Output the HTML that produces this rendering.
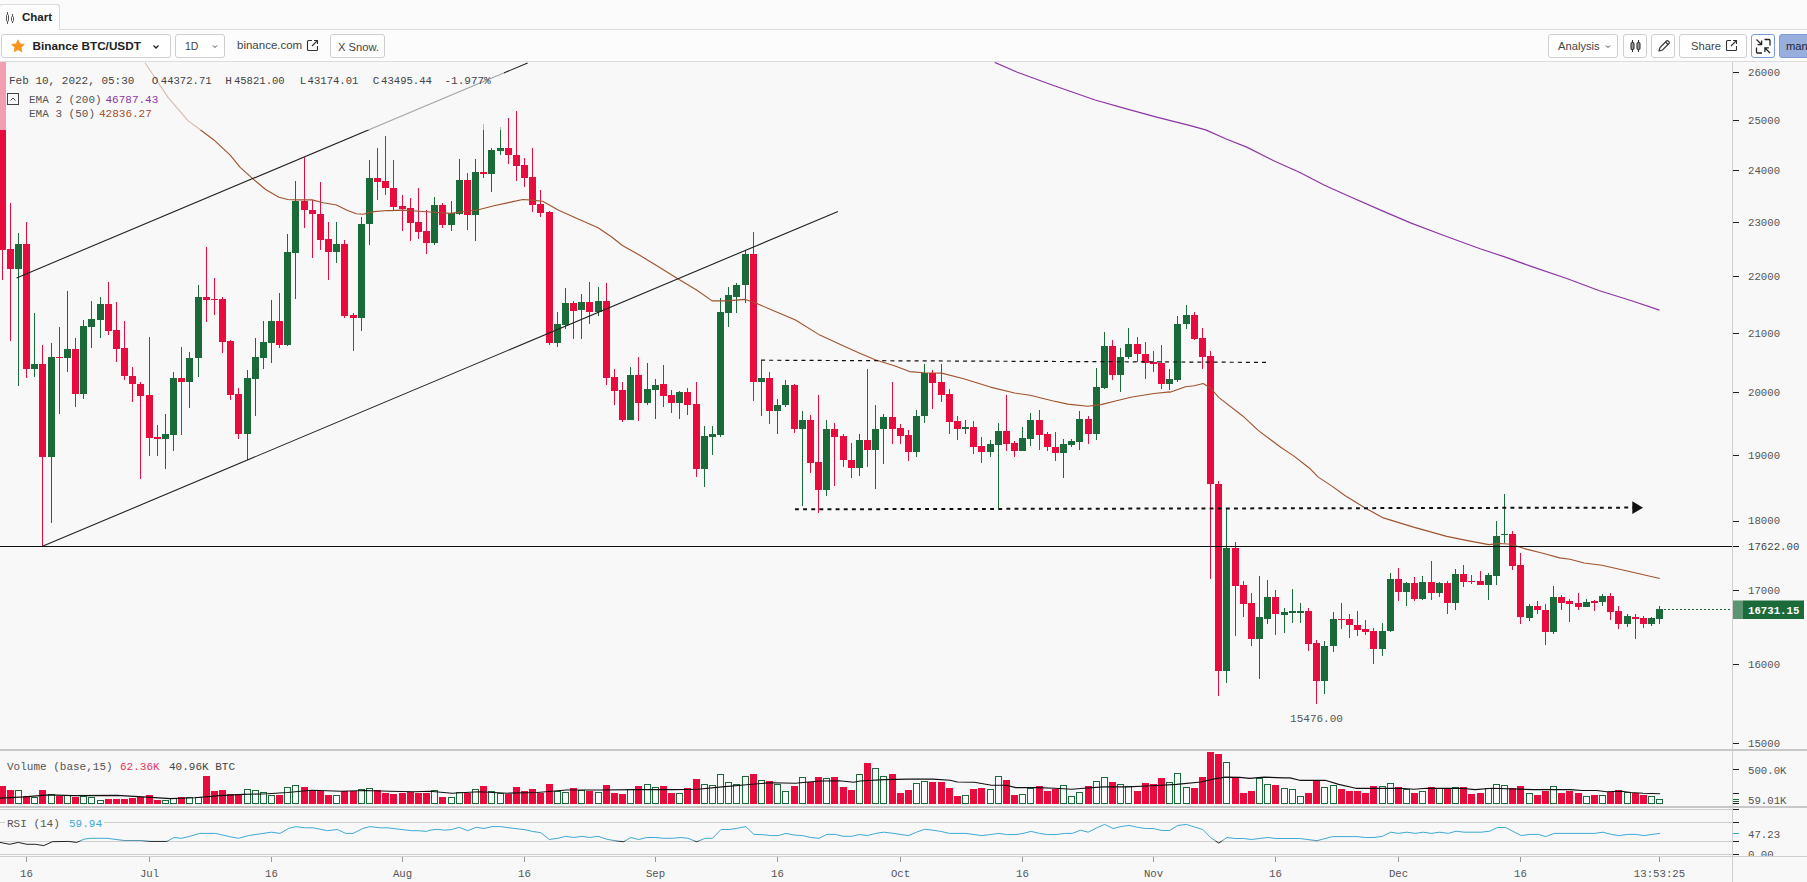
<!DOCTYPE html>
<html><head><meta charset="utf-8"><title>Chart</title><style>
html,body{margin:0;padding:0}
body{width:1807px;height:882px;overflow:hidden;background:#f8f8f8;position:relative;font-family:"Liberation Sans",sans-serif}
.mono{font-family:"Liberation Mono",monospace;font-size:11px}
.ax{font-family:"Liberation Mono",monospace;font-size:10.7px}
#tabs{position:absolute;left:0;top:0;width:1807px;height:29px;background:#fbfbfb;border-bottom:1px solid #dcdcdc}
#tab{position:absolute;left:-1px;top:4px;width:61px;height:26px;background:#fdfdfd;border:1px solid #dcdcdc;border-bottom:none;border-radius:3px 3px 0 0;box-sizing:border-box}
#tab span{position:absolute;left:22px;top:6px;font-size:11.5px;font-weight:bold;color:#222}
#bar{position:absolute;left:0;top:30px;width:1807px;height:31px;background:#fcfcfc;border-bottom:1px solid #dcdcdc}
.btn{position:absolute;top:4px;height:24px;box-sizing:border-box;border:1px solid #cfcfcf;border-radius:3px;background:#fff;font-size:11.2px;color:#444;line-height:22px;white-space:nowrap}
</style></head><body>
<svg width="1807" height="882" viewBox="0 0 1807 882" style="position:absolute;left:0;top:0">
<defs><clipPath id="cm"><rect x="0" y="62" width="1732" height="687"/></clipPath></defs>
<g clip-path="url(#cm)">
<g shape-rendering="crispEdges">
<rect x="2" y="40" width="1" height="240.1" fill="#e80c3e"/>
<rect x="-1" y="40" width="7" height="209.8" fill="#e80c3e"/>
<rect x="10" y="203.3" width="1" height="137.9" fill="#e80c3e"/>
<rect x="7" y="249.1" width="7" height="19.5" fill="#e80c3e"/>
<rect x="18" y="232.5" width="1" height="153" fill="#1b6b3a"/>
<rect x="15" y="244.3" width="7" height="24.3" fill="#1b6b3a"/>
<rect x="26" y="222.1" width="1" height="156.1" fill="#e80c3e"/>
<rect x="23" y="244.3" width="7" height="124.4" fill="#e80c3e"/>
<rect x="34" y="312.5" width="1" height="64.6" fill="#1b6b3a"/>
<rect x="31" y="364.3" width="7" height="4.4" fill="#1b6b3a"/>
<rect x="42" y="345.4" width="1" height="200.6" fill="#e80c3e"/>
<rect x="39" y="364.3" width="7" height="92.6" fill="#e80c3e"/>
<rect x="51" y="343.4" width="1" height="180" fill="#1b6b3a"/>
<rect x="48" y="357.2" width="7" height="99.6" fill="#1b6b3a"/>
<rect x="59" y="327.3" width="1" height="87" fill="#e80c3e"/>
<rect x="56" y="356.7" width="7" height="1.3" fill="#e80c3e"/>
<rect x="67" y="291.2" width="1" height="80.4" fill="#1b6b3a"/>
<rect x="64" y="349.4" width="7" height="8.2" fill="#1b6b3a"/>
<rect x="75" y="338.4" width="1" height="68.2" fill="#e80c3e"/>
<rect x="72" y="349.4" width="7" height="44.3" fill="#e80c3e"/>
<rect x="83" y="319.5" width="1" height="79.9" fill="#1b6b3a"/>
<rect x="80" y="326.2" width="7" height="67.5" fill="#1b6b3a"/>
<rect x="91" y="301.4" width="1" height="46.9" fill="#1b6b3a"/>
<rect x="88" y="319.1" width="7" height="7.5" fill="#1b6b3a"/>
<rect x="100" y="297.4" width="1" height="41" fill="#1b6b3a"/>
<rect x="97" y="304" width="7" height="15.5" fill="#1b6b3a"/>
<rect x="108" y="282.3" width="1" height="52.7" fill="#e80c3e"/>
<rect x="105" y="304" width="7" height="26.6" fill="#e80c3e"/>
<rect x="116" y="302.3" width="1" height="59.3" fill="#e80c3e"/>
<rect x="113" y="330.2" width="7" height="18.6" fill="#e80c3e"/>
<rect x="124" y="320.6" width="1" height="59.8" fill="#e80c3e"/>
<rect x="121" y="348.3" width="7" height="27.2" fill="#e80c3e"/>
<rect x="132" y="366.5" width="1" height="35" fill="#e80c3e"/>
<rect x="129" y="375.5" width="7" height="8.9" fill="#e80c3e"/>
<rect x="140" y="381.5" width="1" height="97.7" fill="#e80c3e"/>
<rect x="137" y="384.2" width="7" height="11.8" fill="#e80c3e"/>
<rect x="149" y="337.2" width="1" height="119.1" fill="#e80c3e"/>
<rect x="146" y="395.1" width="7" height="42.9" fill="#e80c3e"/>
<rect x="157" y="425.4" width="1" height="31" fill="#e80c3e"/>
<rect x="154" y="437.1" width="7" height="1.5" fill="#e80c3e"/>
<rect x="165" y="414.3" width="1" height="54.9" fill="#1b6b3a"/>
<rect x="162" y="434.2" width="7" height="4.4" fill="#1b6b3a"/>
<rect x="173" y="371.6" width="1" height="79.7" fill="#1b6b3a"/>
<rect x="170" y="378.2" width="7" height="56.5" fill="#1b6b3a"/>
<rect x="181" y="347.2" width="1" height="88.1" fill="#e80c3e"/>
<rect x="178" y="378.2" width="7" height="3.3" fill="#e80c3e"/>
<rect x="189" y="351.6" width="1" height="56" fill="#1b6b3a"/>
<rect x="186" y="358.3" width="7" height="23.2" fill="#1b6b3a"/>
<rect x="198" y="285.2" width="1" height="91.9" fill="#1b6b3a"/>
<rect x="195" y="297" width="7" height="61.3" fill="#1b6b3a"/>
<rect x="206" y="247.1" width="1" height="75" fill="#e80c3e"/>
<rect x="203" y="297" width="7" height="2.7" fill="#e80c3e"/>
<rect x="214" y="277.5" width="1" height="37" fill="#e80c3e"/>
<rect x="211" y="298.7" width="7" height="1.4" fill="#e80c3e"/>
<rect x="222" y="297.4" width="1" height="55.8" fill="#e80c3e"/>
<rect x="219" y="298.9" width="7" height="42.7" fill="#e80c3e"/>
<rect x="230" y="339.9" width="1" height="60.5" fill="#e80c3e"/>
<rect x="227" y="341" width="7" height="53.8" fill="#e80c3e"/>
<rect x="238" y="388.4" width="1" height="50.9" fill="#e80c3e"/>
<rect x="235" y="393.9" width="7" height="39.8" fill="#e80c3e"/>
<rect x="247" y="370.4" width="1" height="89.7" fill="#1b6b3a"/>
<rect x="244" y="378.2" width="7" height="55.6" fill="#1b6b3a"/>
<rect x="255" y="338.4" width="1" height="77.7" fill="#1b6b3a"/>
<rect x="252" y="357.2" width="7" height="21.7" fill="#1b6b3a"/>
<rect x="263" y="321.3" width="1" height="48" fill="#1b6b3a"/>
<rect x="260" y="342.3" width="7" height="15.3" fill="#1b6b3a"/>
<rect x="271" y="299.6" width="1" height="63.8" fill="#1b6b3a"/>
<rect x="268" y="321.1" width="7" height="21.7" fill="#1b6b3a"/>
<rect x="279" y="293.4" width="1" height="54.2" fill="#e80c3e"/>
<rect x="276" y="321.1" width="7" height="23.9" fill="#e80c3e"/>
<rect x="287" y="234.3" width="1" height="111.8" fill="#1b6b3a"/>
<rect x="284" y="252" width="7" height="93" fill="#1b6b3a"/>
<rect x="295" y="180.6" width="1" height="118.5" fill="#1b6b3a"/>
<rect x="292" y="201.1" width="7" height="51.6" fill="#1b6b3a"/>
<rect x="304" y="157" width="1" height="70.7" fill="#e80c3e"/>
<rect x="301" y="201" width="7" height="9.4" fill="#e80c3e"/>
<rect x="312" y="199.9" width="1" height="57.7" fill="#e80c3e"/>
<rect x="309" y="210.4" width="7" height="4" fill="#e80c3e"/>
<rect x="320" y="182.4" width="1" height="67.4" fill="#e80c3e"/>
<rect x="317" y="213.9" width="7" height="25.9" fill="#e80c3e"/>
<rect x="328" y="222.1" width="1" height="57.6" fill="#e80c3e"/>
<rect x="325" y="239.4" width="7" height="12.2" fill="#e80c3e"/>
<rect x="336" y="221.5" width="1" height="41.2" fill="#1b6b3a"/>
<rect x="333" y="244.3" width="7" height="7.3" fill="#1b6b3a"/>
<rect x="344" y="240.3" width="1" height="78.1" fill="#e80c3e"/>
<rect x="341" y="244.3" width="7" height="71.5" fill="#e80c3e"/>
<rect x="353" y="312.9" width="1" height="38.1" fill="#e80c3e"/>
<rect x="350" y="315.1" width="7" height="3.3" fill="#e80c3e"/>
<rect x="361" y="216.6" width="1" height="114" fill="#1b6b3a"/>
<rect x="358" y="224.3" width="7" height="94.1" fill="#1b6b3a"/>
<rect x="369" y="160.3" width="1" height="84.7" fill="#1b6b3a"/>
<rect x="366" y="178.4" width="7" height="45.9" fill="#1b6b3a"/>
<rect x="377" y="148.1" width="1" height="51.8" fill="#e80c3e"/>
<rect x="374" y="178.4" width="7" height="3.3" fill="#e80c3e"/>
<rect x="385" y="136.4" width="1" height="58.7" fill="#e80c3e"/>
<rect x="382" y="181.3" width="7" height="7.1" fill="#e80c3e"/>
<rect x="393" y="160.3" width="1" height="50.2" fill="#e80c3e"/>
<rect x="390" y="188.4" width="7" height="18.2" fill="#e80c3e"/>
<rect x="402" y="195.3" width="1" height="35.2" fill="#e80c3e"/>
<rect x="399" y="206.3" width="7" height="2.2" fill="#e80c3e"/>
<rect x="410" y="198.4" width="1" height="42.3" fill="#e80c3e"/>
<rect x="407" y="208.3" width="7" height="14.4" fill="#e80c3e"/>
<rect x="418" y="188.4" width="1" height="50.9" fill="#e80c3e"/>
<rect x="415" y="222.3" width="7" height="9.5" fill="#e80c3e"/>
<rect x="426" y="210.1" width="1" height="44.3" fill="#e80c3e"/>
<rect x="423" y="231.1" width="7" height="11.5" fill="#e80c3e"/>
<rect x="434" y="197.3" width="1" height="47.6" fill="#1b6b3a"/>
<rect x="431" y="205" width="7" height="37.6" fill="#1b6b3a"/>
<rect x="442" y="203" width="1" height="24.8" fill="#e80c3e"/>
<rect x="439" y="205" width="7" height="19.5" fill="#e80c3e"/>
<rect x="451" y="201.3" width="1" height="29.2" fill="#1b6b3a"/>
<rect x="448" y="213.4" width="7" height="11.1" fill="#1b6b3a"/>
<rect x="459" y="158.5" width="1" height="56" fill="#1b6b3a"/>
<rect x="456" y="180.2" width="7" height="33.6" fill="#1b6b3a"/>
<rect x="467" y="173.1" width="1" height="56.4" fill="#e80c3e"/>
<rect x="464" y="180.2" width="7" height="34.3" fill="#e80c3e"/>
<rect x="475" y="159.2" width="1" height="81.5" fill="#1b6b3a"/>
<rect x="472" y="172" width="7" height="42.5" fill="#1b6b3a"/>
<rect x="483" y="124.2" width="1" height="53.3" fill="#e80c3e"/>
<rect x="480" y="172" width="7" height="1.8" fill="#e80c3e"/>
<rect x="491" y="147.5" width="1" height="44.3" fill="#1b6b3a"/>
<rect x="488" y="150.3" width="7" height="23.2" fill="#1b6b3a"/>
<rect x="500" y="126.7" width="1" height="28.6" fill="#1b6b3a"/>
<rect x="497" y="148.1" width="7" height="2.7" fill="#1b6b3a"/>
<rect x="508" y="117.8" width="1" height="45.8" fill="#e80c3e"/>
<rect x="505" y="148.1" width="7" height="7.3" fill="#e80c3e"/>
<rect x="516" y="110.5" width="1" height="70.8" fill="#e80c3e"/>
<rect x="513" y="155.2" width="7" height="10.6" fill="#e80c3e"/>
<rect x="524" y="157.6" width="1" height="29.7" fill="#e80c3e"/>
<rect x="521" y="165.2" width="7" height="12.4" fill="#e80c3e"/>
<rect x="532" y="147.5" width="1" height="64.9" fill="#e80c3e"/>
<rect x="529" y="177.3" width="7" height="27.2" fill="#e80c3e"/>
<rect x="540" y="190.2" width="1" height="26.6" fill="#e80c3e"/>
<rect x="537" y="204.1" width="7" height="8.6" fill="#e80c3e"/>
<rect x="549" y="211.2" width="1" height="134" fill="#e80c3e"/>
<rect x="546" y="212.3" width="7" height="130.7" fill="#e80c3e"/>
<rect x="557" y="311.6" width="1" height="35" fill="#1b6b3a"/>
<rect x="554" y="324.4" width="7" height="18.6" fill="#1b6b3a"/>
<rect x="565" y="287.7" width="1" height="41.6" fill="#1b6b3a"/>
<rect x="562" y="303.4" width="7" height="21.5" fill="#1b6b3a"/>
<rect x="573" y="300.9" width="1" height="38.3" fill="#e80c3e"/>
<rect x="570" y="303.4" width="7" height="7.5" fill="#e80c3e"/>
<rect x="581" y="293.9" width="1" height="45.4" fill="#1b6b3a"/>
<rect x="578" y="302.3" width="7" height="7.5" fill="#1b6b3a"/>
<rect x="589" y="281.6" width="1" height="42.8" fill="#e80c3e"/>
<rect x="586" y="302.3" width="7" height="9.3" fill="#e80c3e"/>
<rect x="598" y="286.5" width="1" height="29" fill="#1b6b3a"/>
<rect x="595" y="300.9" width="7" height="10.6" fill="#1b6b3a"/>
<rect x="606" y="282.5" width="1" height="102.8" fill="#e80c3e"/>
<rect x="603" y="300.9" width="7" height="76.6" fill="#e80c3e"/>
<rect x="614" y="368.7" width="1" height="35.9" fill="#e80c3e"/>
<rect x="611" y="377.3" width="7" height="13.5" fill="#e80c3e"/>
<rect x="622" y="382.4" width="1" height="39.8" fill="#e80c3e"/>
<rect x="619" y="390.1" width="7" height="29.4" fill="#e80c3e"/>
<rect x="630" y="366.5" width="1" height="53.6" fill="#1b6b3a"/>
<rect x="627" y="375.1" width="7" height="44.5" fill="#1b6b3a"/>
<rect x="638" y="357.4" width="1" height="63.1" fill="#e80c3e"/>
<rect x="635" y="375.1" width="7" height="28.3" fill="#e80c3e"/>
<rect x="647" y="362.5" width="1" height="42.1" fill="#1b6b3a"/>
<rect x="644" y="389" width="7" height="14.4" fill="#1b6b3a"/>
<rect x="655" y="379.1" width="1" height="40.3" fill="#1b6b3a"/>
<rect x="652" y="384.6" width="7" height="4.9" fill="#1b6b3a"/>
<rect x="663" y="365.4" width="1" height="41.8" fill="#e80c3e"/>
<rect x="660" y="384.2" width="7" height="11.5" fill="#e80c3e"/>
<rect x="671" y="389.5" width="1" height="23.9" fill="#e80c3e"/>
<rect x="668" y="395.2" width="7" height="7.5" fill="#e80c3e"/>
<rect x="679" y="390.6" width="1" height="27.9" fill="#1b6b3a"/>
<rect x="676" y="392.4" width="7" height="10.4" fill="#1b6b3a"/>
<rect x="687" y="388.4" width="1" height="26.1" fill="#e80c3e"/>
<rect x="684" y="392.4" width="7" height="12.2" fill="#e80c3e"/>
<rect x="696" y="381.7" width="1" height="95.4" fill="#e80c3e"/>
<rect x="693" y="404.1" width="7" height="64.6" fill="#e80c3e"/>
<rect x="704" y="425.6" width="1" height="60.9" fill="#1b6b3a"/>
<rect x="701" y="436.2" width="7" height="32.5" fill="#1b6b3a"/>
<rect x="712" y="425.6" width="1" height="29.4" fill="#1b6b3a"/>
<rect x="709" y="434.4" width="7" height="2.2" fill="#1b6b3a"/>
<rect x="720" y="298.3" width="1" height="138.4" fill="#1b6b3a"/>
<rect x="717" y="312.2" width="7" height="122.6" fill="#1b6b3a"/>
<rect x="728" y="286.5" width="1" height="40.1" fill="#1b6b3a"/>
<rect x="725" y="295" width="7" height="17.7" fill="#1b6b3a"/>
<rect x="736" y="283.2" width="1" height="29.5" fill="#1b6b3a"/>
<rect x="733" y="284.9" width="7" height="11.6" fill="#1b6b3a"/>
<rect x="745" y="250" width="1" height="52.8" fill="#1b6b3a"/>
<rect x="742" y="253.9" width="7" height="31.4" fill="#1b6b3a"/>
<rect x="753" y="232.2" width="1" height="168.3" fill="#e80c3e"/>
<rect x="750" y="253.9" width="7" height="127.8" fill="#e80c3e"/>
<rect x="761" y="359.6" width="1" height="56" fill="#1b6b3a"/>
<rect x="758" y="378.4" width="7" height="3.3" fill="#1b6b3a"/>
<rect x="769" y="372.4" width="1" height="51.4" fill="#e80c3e"/>
<rect x="766" y="378.4" width="7" height="32.3" fill="#e80c3e"/>
<rect x="777" y="399.4" width="1" height="35" fill="#1b6b3a"/>
<rect x="774" y="404.5" width="7" height="6.2" fill="#1b6b3a"/>
<rect x="785" y="380.2" width="1" height="27.2" fill="#1b6b3a"/>
<rect x="782" y="385.3" width="7" height="19.5" fill="#1b6b3a"/>
<rect x="794" y="384.2" width="1" height="49.1" fill="#e80c3e"/>
<rect x="791" y="385.3" width="7" height="43.6" fill="#e80c3e"/>
<rect x="802" y="411.2" width="1" height="94.3" fill="#1b6b3a"/>
<rect x="799" y="420.3" width="7" height="8.6" fill="#1b6b3a"/>
<rect x="810" y="414.5" width="1" height="58.7" fill="#e80c3e"/>
<rect x="807" y="420.3" width="7" height="42.5" fill="#e80c3e"/>
<rect x="818" y="395.3" width="1" height="117.3" fill="#e80c3e"/>
<rect x="815" y="462.1" width="7" height="27.9" fill="#e80c3e"/>
<rect x="826" y="420.3" width="1" height="76.1" fill="#1b6b3a"/>
<rect x="823" y="429.1" width="7" height="60.9" fill="#1b6b3a"/>
<rect x="834" y="422.9" width="1" height="62.6" fill="#e80c3e"/>
<rect x="831" y="429.1" width="7" height="7.5" fill="#e80c3e"/>
<rect x="843" y="434.4" width="1" height="32.8" fill="#e80c3e"/>
<rect x="840" y="436.2" width="7" height="23.7" fill="#e80c3e"/>
<rect x="851" y="443.3" width="1" height="35" fill="#e80c3e"/>
<rect x="848" y="459.5" width="7" height="8.2" fill="#e80c3e"/>
<rect x="859" y="434.4" width="1" height="41.2" fill="#1b6b3a"/>
<rect x="856" y="440.2" width="7" height="27.4" fill="#1b6b3a"/>
<rect x="867" y="369.4" width="1" height="97.2" fill="#e80c3e"/>
<rect x="864" y="440.2" width="7" height="9.3" fill="#e80c3e"/>
<rect x="875" y="405.2" width="1" height="84.1" fill="#1b6b3a"/>
<rect x="872" y="428.5" width="7" height="21" fill="#1b6b3a"/>
<rect x="883" y="414.1" width="1" height="50.2" fill="#1b6b3a"/>
<rect x="880" y="417" width="7" height="11.5" fill="#1b6b3a"/>
<rect x="892" y="381.5" width="1" height="62.9" fill="#e80c3e"/>
<rect x="889" y="417" width="7" height="11.5" fill="#e80c3e"/>
<rect x="900" y="424" width="1" height="19.9" fill="#e80c3e"/>
<rect x="897" y="428" width="7" height="7.5" fill="#e80c3e"/>
<rect x="908" y="429.6" width="1" height="31" fill="#e80c3e"/>
<rect x="905" y="435.1" width="7" height="17" fill="#e80c3e"/>
<rect x="916" y="409.7" width="1" height="47.6" fill="#1b6b3a"/>
<rect x="913" y="415.6" width="7" height="36.5" fill="#1b6b3a"/>
<rect x="924" y="363.6" width="1" height="59.8" fill="#1b6b3a"/>
<rect x="921" y="372.5" width="7" height="43.2" fill="#1b6b3a"/>
<rect x="932" y="370.2" width="1" height="38.3" fill="#e80c3e"/>
<rect x="929" y="372.5" width="7" height="10.2" fill="#e80c3e"/>
<rect x="941" y="364.3" width="1" height="37.2" fill="#e80c3e"/>
<rect x="938" y="382.4" width="7" height="12.2" fill="#e80c3e"/>
<rect x="949" y="388.6" width="1" height="45.8" fill="#e80c3e"/>
<rect x="946" y="394.2" width="7" height="27.7" fill="#e80c3e"/>
<rect x="957" y="415.6" width="1" height="23.9" fill="#e80c3e"/>
<rect x="954" y="421.4" width="7" height="7.1" fill="#e80c3e"/>
<rect x="965" y="419.6" width="1" height="14.8" fill="#1b6b3a"/>
<rect x="962" y="427.2" width="7" height="1.4" fill="#1b6b3a"/>
<rect x="973" y="421.4" width="1" height="32.1" fill="#e80c3e"/>
<rect x="970" y="427.4" width="7" height="19.5" fill="#e80c3e"/>
<rect x="981" y="437.3" width="1" height="26.1" fill="#e80c3e"/>
<rect x="978" y="446.4" width="7" height="5.3" fill="#e80c3e"/>
<rect x="990" y="439.5" width="1" height="17.7" fill="#1b6b3a"/>
<rect x="987" y="444.4" width="7" height="7.3" fill="#1b6b3a"/>
<rect x="998" y="422.5" width="1" height="85.2" fill="#1b6b3a"/>
<rect x="995" y="431.3" width="7" height="13.3" fill="#1b6b3a"/>
<rect x="1006" y="395.3" width="1" height="55.3" fill="#e80c3e"/>
<rect x="1003" y="431.3" width="7" height="12.2" fill="#e80c3e"/>
<rect x="1014" y="440.6" width="1" height="15.9" fill="#e80c3e"/>
<rect x="1011" y="443.3" width="7" height="7.3" fill="#e80c3e"/>
<rect x="1022" y="427.4" width="1" height="23.7" fill="#1b6b3a"/>
<rect x="1019" y="438.4" width="7" height="12.2" fill="#1b6b3a"/>
<rect x="1030" y="412.5" width="1" height="33" fill="#1b6b3a"/>
<rect x="1027" y="420.3" width="7" height="18.6" fill="#1b6b3a"/>
<rect x="1039" y="410.3" width="1" height="39.2" fill="#e80c3e"/>
<rect x="1036" y="420.3" width="7" height="14.4" fill="#e80c3e"/>
<rect x="1047" y="432.2" width="1" height="18.4" fill="#e80c3e"/>
<rect x="1044" y="434" width="7" height="12.6" fill="#e80c3e"/>
<rect x="1055" y="432.2" width="1" height="29" fill="#e80c3e"/>
<rect x="1052" y="446.8" width="7" height="6" fill="#e80c3e"/>
<rect x="1063" y="438.9" width="1" height="38.7" fill="#1b6b3a"/>
<rect x="1060" y="444.4" width="7" height="8.4" fill="#1b6b3a"/>
<rect x="1071" y="438.9" width="1" height="8.4" fill="#1b6b3a"/>
<rect x="1068" y="441.3" width="7" height="3.3" fill="#1b6b3a"/>
<rect x="1079" y="411.4" width="1" height="38.7" fill="#1b6b3a"/>
<rect x="1076" y="418.5" width="7" height="23.2" fill="#1b6b3a"/>
<rect x="1088" y="416.3" width="1" height="28.1" fill="#e80c3e"/>
<rect x="1085" y="418.5" width="7" height="15.5" fill="#e80c3e"/>
<rect x="1096" y="367.6" width="1" height="71.9" fill="#1b6b3a"/>
<rect x="1093" y="387.1" width="7" height="46.9" fill="#1b6b3a"/>
<rect x="1104" y="331.5" width="1" height="57.8" fill="#1b6b3a"/>
<rect x="1101" y="346.1" width="7" height="41.4" fill="#1b6b3a"/>
<rect x="1112" y="340.4" width="1" height="39.8" fill="#e80c3e"/>
<rect x="1109" y="346.1" width="7" height="28.6" fill="#e80c3e"/>
<rect x="1120" y="347.7" width="1" height="44.7" fill="#1b6b3a"/>
<rect x="1117" y="356.5" width="7" height="18.2" fill="#1b6b3a"/>
<rect x="1128" y="328.4" width="1" height="31" fill="#1b6b3a"/>
<rect x="1125" y="344.3" width="7" height="12.2" fill="#1b6b3a"/>
<rect x="1137" y="337.3" width="1" height="24.3" fill="#e80c3e"/>
<rect x="1134" y="344.3" width="7" height="10" fill="#e80c3e"/>
<rect x="1145" y="341.5" width="1" height="37.2" fill="#e80c3e"/>
<rect x="1142" y="354.3" width="7" height="8.4" fill="#e80c3e"/>
<rect x="1153" y="350.5" width="1" height="21.9" fill="#e80c3e"/>
<rect x="1150" y="362.1" width="7" height="1.5" fill="#e80c3e"/>
<rect x="1161" y="344.8" width="1" height="44.5" fill="#e80c3e"/>
<rect x="1158" y="363.2" width="7" height="20.4" fill="#e80c3e"/>
<rect x="1169" y="368.7" width="1" height="21.7" fill="#1b6b3a"/>
<rect x="1166" y="379.3" width="7" height="4.2" fill="#1b6b3a"/>
<rect x="1177" y="315.5" width="1" height="66" fill="#1b6b3a"/>
<rect x="1174" y="323.9" width="7" height="55.8" fill="#1b6b3a"/>
<rect x="1186" y="304.9" width="1" height="23.9" fill="#1b6b3a"/>
<rect x="1183" y="315.1" width="7" height="9.3" fill="#1b6b3a"/>
<rect x="1194" y="312.2" width="1" height="27.7" fill="#e80c3e"/>
<rect x="1191" y="315.1" width="7" height="23.7" fill="#e80c3e"/>
<rect x="1202" y="328.3" width="1" height="41" fill="#e80c3e"/>
<rect x="1199" y="338.3" width="7" height="18.2" fill="#e80c3e"/>
<rect x="1210" y="350.5" width="1" height="228" fill="#e80c3e"/>
<rect x="1207" y="356" width="7" height="128.4" fill="#e80c3e"/>
<rect x="1218" y="481.1" width="1" height="214.5" fill="#e80c3e"/>
<rect x="1215" y="483.8" width="7" height="187.1" fill="#e80c3e"/>
<rect x="1226" y="507.7" width="1" height="174.9" fill="#1b6b3a"/>
<rect x="1223" y="548.2" width="7" height="122.7" fill="#1b6b3a"/>
<rect x="1235" y="541.5" width="1" height="94.5" fill="#e80c3e"/>
<rect x="1232" y="547.5" width="7" height="38.3" fill="#e80c3e"/>
<rect x="1243" y="581.4" width="1" height="35.9" fill="#e80c3e"/>
<rect x="1240" y="585.1" width="7" height="18.8" fill="#e80c3e"/>
<rect x="1251" y="593.3" width="1" height="53.1" fill="#e80c3e"/>
<rect x="1248" y="603.3" width="7" height="36.1" fill="#e80c3e"/>
<rect x="1259" y="576.3" width="1" height="102.3" fill="#1b6b3a"/>
<rect x="1256" y="617.2" width="7" height="22.1" fill="#1b6b3a"/>
<rect x="1267" y="580.3" width="1" height="44.1" fill="#1b6b3a"/>
<rect x="1264" y="597.3" width="7" height="21.5" fill="#1b6b3a"/>
<rect x="1275" y="589.6" width="1" height="45.8" fill="#e80c3e"/>
<rect x="1272" y="597.3" width="7" height="17" fill="#e80c3e"/>
<rect x="1284" y="607.9" width="1" height="25.5" fill="#1b6b3a"/>
<rect x="1281" y="612.2" width="7" height="2.4" fill="#1b6b3a"/>
<rect x="1292" y="589.1" width="1" height="34.3" fill="#1b6b3a"/>
<rect x="1289" y="611.3" width="7" height="1.5" fill="#1b6b3a"/>
<rect x="1300" y="603.3" width="1" height="19.5" fill="#1b6b3a"/>
<rect x="1297" y="611.3" width="7" height="1.5" fill="#1b6b3a"/>
<rect x="1308" y="608.4" width="1" height="42.1" fill="#e80c3e"/>
<rect x="1305" y="611" width="7" height="32.8" fill="#e80c3e"/>
<rect x="1316" y="640" width="1" height="64.4" fill="#e80c3e"/>
<rect x="1313" y="643.4" width="7" height="37.4" fill="#e80c3e"/>
<rect x="1324" y="640.5" width="1" height="53.1" fill="#1b6b3a"/>
<rect x="1321" y="646" width="7" height="34.8" fill="#1b6b3a"/>
<rect x="1333" y="611.7" width="1" height="40.5" fill="#1b6b3a"/>
<rect x="1330" y="619" width="7" height="27.4" fill="#1b6b3a"/>
<rect x="1341" y="603.3" width="1" height="26.1" fill="#e80c3e"/>
<rect x="1338" y="618.9" width="7" height="1.4" fill="#e80c3e"/>
<rect x="1349" y="614.4" width="1" height="23.9" fill="#e80c3e"/>
<rect x="1346" y="619" width="7" height="6.4" fill="#e80c3e"/>
<rect x="1357" y="611.3" width="1" height="24.3" fill="#e80c3e"/>
<rect x="1354" y="625" width="7" height="4.9" fill="#e80c3e"/>
<rect x="1365" y="619.5" width="1" height="15.1" fill="#e80c3e"/>
<rect x="1362" y="629.4" width="7" height="2.9" fill="#e80c3e"/>
<rect x="1373" y="627.6" width="1" height="36.7" fill="#e80c3e"/>
<rect x="1370" y="631.2" width="7" height="17.5" fill="#e80c3e"/>
<rect x="1382" y="623.4" width="1" height="33" fill="#1b6b3a"/>
<rect x="1379" y="630.5" width="7" height="18.2" fill="#1b6b3a"/>
<rect x="1390" y="572.5" width="1" height="59.1" fill="#1b6b3a"/>
<rect x="1387" y="578.5" width="7" height="52.5" fill="#1b6b3a"/>
<rect x="1398" y="567.9" width="1" height="32.8" fill="#e80c3e"/>
<rect x="1395" y="578.5" width="7" height="13.3" fill="#e80c3e"/>
<rect x="1406" y="581.8" width="1" height="23.7" fill="#1b6b3a"/>
<rect x="1403" y="582.9" width="7" height="8.9" fill="#1b6b3a"/>
<rect x="1414" y="576.7" width="1" height="23.9" fill="#e80c3e"/>
<rect x="1411" y="582.9" width="7" height="15.9" fill="#e80c3e"/>
<rect x="1422" y="575.6" width="1" height="23.9" fill="#1b6b3a"/>
<rect x="1419" y="582.3" width="7" height="16.6" fill="#1b6b3a"/>
<rect x="1431" y="560.8" width="1" height="38.7" fill="#e80c3e"/>
<rect x="1428" y="582.3" width="7" height="10.2" fill="#e80c3e"/>
<rect x="1439" y="582.3" width="1" height="15.1" fill="#1b6b3a"/>
<rect x="1436" y="582.9" width="7" height="10" fill="#1b6b3a"/>
<rect x="1447" y="580.7" width="1" height="32.8" fill="#e80c3e"/>
<rect x="1444" y="582.9" width="7" height="19.9" fill="#e80c3e"/>
<rect x="1455" y="569.2" width="1" height="40.3" fill="#1b6b3a"/>
<rect x="1452" y="574.1" width="7" height="28.8" fill="#1b6b3a"/>
<rect x="1463" y="564.6" width="1" height="22.1" fill="#e80c3e"/>
<rect x="1460" y="574.1" width="7" height="7.7" fill="#e80c3e"/>
<rect x="1471" y="574.5" width="1" height="9.5" fill="#e80c3e"/>
<rect x="1468" y="581" width="7" height="1.4" fill="#e80c3e"/>
<rect x="1480" y="571.4" width="1" height="13.7" fill="#e80c3e"/>
<rect x="1477" y="581.2" width="7" height="3.5" fill="#e80c3e"/>
<rect x="1488" y="573.4" width="1" height="26.1" fill="#1b6b3a"/>
<rect x="1485" y="575.2" width="7" height="9.5" fill="#1b6b3a"/>
<rect x="1496" y="520.5" width="1" height="64" fill="#1b6b3a"/>
<rect x="1493" y="536" width="7" height="39.6" fill="#1b6b3a"/>
<rect x="1504" y="494.4" width="1" height="48.7" fill="#1b6b3a"/>
<rect x="1501" y="533.8" width="7" height="1.5" fill="#1b6b3a"/>
<rect x="1512" y="530.5" width="1" height="39.8" fill="#e80c3e"/>
<rect x="1509" y="533.8" width="7" height="32.1" fill="#e80c3e"/>
<rect x="1520" y="552.6" width="1" height="71.7" fill="#e80c3e"/>
<rect x="1517" y="565.2" width="7" height="51.6" fill="#e80c3e"/>
<rect x="1529" y="604.4" width="1" height="16.2" fill="#1b6b3a"/>
<rect x="1526" y="606.2" width="7" height="11.5" fill="#1b6b3a"/>
<rect x="1537" y="600.6" width="1" height="13.7" fill="#e80c3e"/>
<rect x="1534" y="606.2" width="7" height="3.8" fill="#e80c3e"/>
<rect x="1545" y="603.5" width="1" height="41" fill="#e80c3e"/>
<rect x="1542" y="609.5" width="7" height="22.1" fill="#e80c3e"/>
<rect x="1553" y="585.8" width="1" height="48.5" fill="#1b6b3a"/>
<rect x="1550" y="597.3" width="7" height="34.3" fill="#1b6b3a"/>
<rect x="1561" y="595.1" width="1" height="15.1" fill="#e80c3e"/>
<rect x="1558" y="597.3" width="7" height="5.5" fill="#e80c3e"/>
<rect x="1569" y="599.1" width="1" height="23.2" fill="#e80c3e"/>
<rect x="1566" y="601.3" width="7" height="2.2" fill="#e80c3e"/>
<rect x="1578" y="593.3" width="1" height="16.2" fill="#e80c3e"/>
<rect x="1575" y="603.3" width="7" height="3.5" fill="#e80c3e"/>
<rect x="1586" y="599.1" width="1" height="7.7" fill="#1b6b3a"/>
<rect x="1583" y="601.7" width="7" height="4.9" fill="#1b6b3a"/>
<rect x="1594" y="599.5" width="1" height="11.1" fill="#e80c3e"/>
<rect x="1591" y="601.2" width="7" height="1.4" fill="#e80c3e"/>
<rect x="1602" y="594" width="1" height="11.5" fill="#1b6b3a"/>
<rect x="1599" y="596.2" width="7" height="6.2" fill="#1b6b3a"/>
<rect x="1610" y="592.5" width="1" height="27" fill="#e80c3e"/>
<rect x="1607" y="596.2" width="7" height="15.5" fill="#e80c3e"/>
<rect x="1618" y="605.5" width="1" height="23.9" fill="#e80c3e"/>
<rect x="1615" y="611.3" width="7" height="12.6" fill="#e80c3e"/>
<rect x="1627" y="614.4" width="1" height="12.8" fill="#1b6b3a"/>
<rect x="1624" y="616.1" width="7" height="7.7" fill="#1b6b3a"/>
<rect x="1635" y="613.5" width="1" height="25.9" fill="#e80c3e"/>
<rect x="1632" y="616.6" width="7" height="2.2" fill="#e80c3e"/>
<rect x="1643" y="616.1" width="1" height="12.2" fill="#e80c3e"/>
<rect x="1640" y="618.4" width="7" height="5.5" fill="#e80c3e"/>
<rect x="1651" y="617.2" width="1" height="8.9" fill="#1b6b3a"/>
<rect x="1648" y="618.4" width="7" height="5.5" fill="#1b6b3a"/>
<rect x="1659" y="606.2" width="1" height="17.3" fill="#1b6b3a"/>
<rect x="1656" y="609.1" width="7" height="9.7" fill="#1b6b3a"/>
</g>
<polyline points="145,62.7 155,77.7 168.2,97.6 188.2,120.9 200.3,129.7 213.6,139.7 230.2,155.2 240.2,167.4 252.4,178.4 265.6,189.5 278.9,197.2 287.8,199.5 296.6,199.9 312.1,199.9 323.2,202.8 336.5,205 347.5,210.5 356.4,213.8 363,214.3 374.1,211.6 387.4,210.5 390,210.6 403.3,210.1 418.8,211.2 434.3,212.3 449.8,213.4 463,211.7 478.5,209.7 494,205.7 509.5,202.4 522.8,199.5 531.7,200.1 542.7,201.3 558.2,210.1 575.9,217.9 598.1,227.8 611.4,236.7 622.4,245.5 640.1,255.5 660.1,267.7 677.8,278.7 696.6,290 712.1,300.9 726.5,300.9 745.3,299.4 757.5,303.8 773,310.5 795.5,320 819.8,335.1 839.8,344.3 859.7,353.2 875.2,359.8 895.1,366 909.5,371.6 923.9,372.7 941.6,373.1 963.7,378.7 990.3,387.1 1014.6,393 1030.1,395.3 1052.3,400.8 1067.8,404.1 1087.7,406.3 1101,404.6 1116.5,400.8 1132,397 1154.1,393.5 1169.6,391.9 1170,392.3 1185.5,386.8 1194.3,385.7 1203.2,383.5 1211,388.5 1218.7,397.4 1243,416.2 1258.5,430.6 1280.7,447.2 1294,456.1 1309.5,468.2 1318.3,477.1 1331.6,485.9 1344.9,495.5 1364.8,507.7 1382.5,517.6 1413.5,527.1 1446.7,536.4 1468.8,540.9 1488.8,544.6 1499.8,543.5 1510.9,544.2 1524.2,548.6 1541.9,553 1559.6,557.9 1570,559.2 1584.1,563 1601.8,565.2 1628.4,571.2 1659.8,578.5" fill="none" stroke="#a0522d" stroke-width="1.1" stroke-linejoin="round"/>
<polyline points="994.8,62.4 1017.3,72.2 1054.2,85.7 1095.1,100 1123.8,108.2 1156.6,117.2 1189.3,125.4 1205.7,129.9 1226.2,139 1246.7,147.1 1275.3,161.5 1299.9,172.5 1324.5,185.2 1349,196.3 1381.8,210.6 1410.5,222.9 1443.2,235.2 1480.1,248.7 1504.7,256.9 1533.3,267.1 1566.1,278.2 1598.8,290.5 1631.6,300.7 1659.5,310.1" fill="none" stroke="#8e35a5" stroke-width="1.2" stroke-linejoin="round"/>
<g stroke="#222" stroke-width="1.1" fill="none">
<line x1="16.6" y1="277.9" x2="527.6" y2="63"/>
<line x1="42.5" y1="546.3" x2="838" y2="211.4"/>
</g>
<line x1="761.1" y1="360.2" x2="1269.5" y2="362.4" stroke="#111" stroke-width="1.2" stroke-dasharray="4 4.08"/>
<line x1="795" y1="509.3" x2="1633" y2="507.6" stroke="#111" stroke-width="2" stroke-dasharray="3.9 4.23"/>
<polygon points="1632.3,501.3 1643,507.7 1632.3,514" fill="#111"/>
<line x1="1663.7" y1="609.5" x2="1733" y2="609.5" stroke="#1b6b3a" stroke-width="1" stroke-dasharray="2 2" shape-rendering="crispEdges"/>
<rect x="0" y="62" width="504" height="68" fill="#f8f8f8" fill-opacity="0.62"/>
</g>
<line x1="0" y1="546.5" x2="1739" y2="546.5" stroke="#111" stroke-width="1" shape-rendering="crispEdges"/>
<text x="1316.5" y="722.3" text-anchor="middle" class="mono" fill="#555">15476.00</text>
<rect x="0" y="749" width="1807" height="2" fill="#c8c8c8"/>
<rect x="0" y="806" width="1807" height="2" fill="#c8c8c8"/>
<line x1="0" y1="809.5" x2="1732" y2="809.5" stroke="#cfcfcf" stroke-width="1" shape-rendering="crispEdges"/>
<line x1="0" y1="822.5" x2="1732" y2="822.5" stroke="#cfcfcf" stroke-width="1" shape-rendering="crispEdges"/>
<line x1="0" y1="841.5" x2="1732" y2="841.5" stroke="#cfcfcf" stroke-width="1" shape-rendering="crispEdges"/>
<line x1="0" y1="854.5" x2="1732" y2="854.5" stroke="#cfcfcf" stroke-width="1" shape-rendering="crispEdges"/>
<g shape-rendering="crispEdges">
<rect x="-1" y="785.9" width="7" height="17.6" fill="#e80c3e"/>
<rect x="7" y="790" width="7" height="13.5" fill="#e80c3e"/>
<rect x="15.5" y="790.5" width="6" height="12.5" fill="#fafafa" stroke="#1b6b3a" stroke-width="1"/>
<rect x="23" y="796.1" width="7" height="7.4" fill="#e80c3e"/>
<rect x="31.5" y="797.5" width="6" height="5.5" fill="#fafafa" stroke="#1b6b3a" stroke-width="1"/>
<rect x="39" y="790" width="7" height="13.5" fill="#e80c3e"/>
<rect x="48.5" y="794.5" width="6" height="8.5" fill="#fafafa" stroke="#1b6b3a" stroke-width="1"/>
<rect x="56" y="795.6" width="7" height="7.9" fill="#e80c3e"/>
<rect x="64.5" y="795.5" width="6" height="7.5" fill="#fafafa" stroke="#1b6b3a" stroke-width="1"/>
<rect x="72" y="796.9" width="7" height="6.6" fill="#e80c3e"/>
<rect x="80.5" y="796.5" width="6" height="6.5" fill="#fafafa" stroke="#1b6b3a" stroke-width="1"/>
<rect x="88.5" y="797.5" width="6" height="5.5" fill="#fafafa" stroke="#1b6b3a" stroke-width="1"/>
<rect x="97.5" y="800.5" width="6" height="2.5" fill="#fafafa" stroke="#1b6b3a" stroke-width="1"/>
<rect x="105" y="799.1" width="7" height="4.4" fill="#e80c3e"/>
<rect x="113" y="799.1" width="7" height="4.4" fill="#e80c3e"/>
<rect x="121" y="799.1" width="7" height="4.4" fill="#e80c3e"/>
<rect x="129" y="798.1" width="7" height="5.4" fill="#e80c3e"/>
<rect x="137" y="797.4" width="7" height="6.1" fill="#e80c3e"/>
<rect x="146" y="795.4" width="7" height="8.1" fill="#e80c3e"/>
<rect x="154" y="799.8" width="7" height="3.7" fill="#e80c3e"/>
<rect x="162.5" y="800.5" width="6" height="2.5" fill="#fafafa" stroke="#1b6b3a" stroke-width="1"/>
<rect x="170.5" y="798.5" width="6" height="4.5" fill="#fafafa" stroke="#1b6b3a" stroke-width="1"/>
<rect x="178" y="796.9" width="7" height="6.6" fill="#e80c3e"/>
<rect x="186.5" y="797.5" width="6" height="5.5" fill="#fafafa" stroke="#1b6b3a" stroke-width="1"/>
<rect x="195.5" y="797.5" width="6" height="5.5" fill="#fafafa" stroke="#1b6b3a" stroke-width="1"/>
<rect x="203" y="776.2" width="7" height="27.3" fill="#e80c3e"/>
<rect x="211" y="791.3" width="7" height="12.2" fill="#e80c3e"/>
<rect x="219" y="790" width="7" height="13.5" fill="#e80c3e"/>
<rect x="227" y="794.2" width="7" height="9.3" fill="#e80c3e"/>
<rect x="235" y="794.2" width="7" height="9.3" fill="#e80c3e"/>
<rect x="244.5" y="789.5" width="6" height="13.5" fill="#fafafa" stroke="#1b6b3a" stroke-width="1"/>
<rect x="252.5" y="790.5" width="6" height="12.5" fill="#fafafa" stroke="#1b6b3a" stroke-width="1"/>
<rect x="260.5" y="792.5" width="6" height="10.5" fill="#fafafa" stroke="#1b6b3a" stroke-width="1"/>
<rect x="268.5" y="795.5" width="6" height="7.5" fill="#fafafa" stroke="#1b6b3a" stroke-width="1"/>
<rect x="276" y="794.9" width="7" height="8.6" fill="#e80c3e"/>
<rect x="284.5" y="787.5" width="6" height="15.5" fill="#fafafa" stroke="#1b6b3a" stroke-width="1"/>
<rect x="292.5" y="785.5" width="6" height="17.5" fill="#fafafa" stroke="#1b6b3a" stroke-width="1"/>
<rect x="301" y="787.1" width="7" height="16.4" fill="#e80c3e"/>
<rect x="309" y="790.5" width="7" height="13" fill="#e80c3e"/>
<rect x="317" y="790.5" width="7" height="13" fill="#e80c3e"/>
<rect x="325" y="794.9" width="7" height="8.6" fill="#e80c3e"/>
<rect x="333.5" y="795.5" width="6" height="7.5" fill="#fafafa" stroke="#1b6b3a" stroke-width="1"/>
<rect x="341" y="791.3" width="7" height="12.2" fill="#e80c3e"/>
<rect x="350" y="791.3" width="7" height="12.2" fill="#e80c3e"/>
<rect x="358.5" y="789.5" width="6" height="13.5" fill="#fafafa" stroke="#1b6b3a" stroke-width="1"/>
<rect x="366.5" y="788.5" width="6" height="14.5" fill="#fafafa" stroke="#1b6b3a" stroke-width="1"/>
<rect x="374" y="790" width="7" height="13.5" fill="#e80c3e"/>
<rect x="382" y="793" width="7" height="10.5" fill="#e80c3e"/>
<rect x="390" y="794.2" width="7" height="9.3" fill="#e80c3e"/>
<rect x="399" y="793" width="7" height="10.5" fill="#e80c3e"/>
<rect x="407" y="791.8" width="7" height="11.7" fill="#e80c3e"/>
<rect x="415" y="792.5" width="7" height="11" fill="#e80c3e"/>
<rect x="423" y="792.5" width="7" height="11" fill="#e80c3e"/>
<rect x="431.5" y="790.5" width="6" height="12.5" fill="#fafafa" stroke="#1b6b3a" stroke-width="1"/>
<rect x="439" y="796.9" width="7" height="6.6" fill="#e80c3e"/>
<rect x="448.5" y="797.5" width="6" height="5.5" fill="#fafafa" stroke="#1b6b3a" stroke-width="1"/>
<rect x="456.5" y="792.5" width="6" height="10.5" fill="#fafafa" stroke="#1b6b3a" stroke-width="1"/>
<rect x="464" y="793" width="7" height="10.5" fill="#e80c3e"/>
<rect x="472.5" y="789.5" width="6" height="13.5" fill="#fafafa" stroke="#1b6b3a" stroke-width="1"/>
<rect x="480" y="786.4" width="7" height="17.1" fill="#e80c3e"/>
<rect x="488.5" y="791.5" width="6" height="11.5" fill="#fafafa" stroke="#1b6b3a" stroke-width="1"/>
<rect x="497.5" y="793.5" width="6" height="9.5" fill="#fafafa" stroke="#1b6b3a" stroke-width="1"/>
<rect x="505" y="793.7" width="7" height="9.8" fill="#e80c3e"/>
<rect x="513" y="787.1" width="7" height="16.4" fill="#e80c3e"/>
<rect x="521" y="791.3" width="7" height="12.2" fill="#e80c3e"/>
<rect x="529" y="789.3" width="7" height="14.2" fill="#e80c3e"/>
<rect x="537" y="793" width="7" height="10.5" fill="#e80c3e"/>
<rect x="546" y="784" width="7" height="19.5" fill="#e80c3e"/>
<rect x="554.5" y="791.5" width="6" height="11.5" fill="#fafafa" stroke="#1b6b3a" stroke-width="1"/>
<rect x="562.5" y="792.5" width="6" height="10.5" fill="#fafafa" stroke="#1b6b3a" stroke-width="1"/>
<rect x="570" y="788.3" width="7" height="15.2" fill="#e80c3e"/>
<rect x="578.5" y="790.5" width="6" height="12.5" fill="#fafafa" stroke="#1b6b3a" stroke-width="1"/>
<rect x="586" y="790.5" width="7" height="13" fill="#e80c3e"/>
<rect x="595.5" y="792.5" width="6" height="10.5" fill="#fafafa" stroke="#1b6b3a" stroke-width="1"/>
<rect x="603" y="785.2" width="7" height="18.3" fill="#e80c3e"/>
<rect x="611" y="792.5" width="7" height="11" fill="#e80c3e"/>
<rect x="619" y="794.4" width="7" height="9.1" fill="#e80c3e"/>
<rect x="627.5" y="789.5" width="6" height="13.5" fill="#fafafa" stroke="#1b6b3a" stroke-width="1"/>
<rect x="635" y="786.4" width="7" height="17.1" fill="#e80c3e"/>
<rect x="644.5" y="784.5" width="6" height="18.5" fill="#fafafa" stroke="#1b6b3a" stroke-width="1"/>
<rect x="652.5" y="787.5" width="6" height="15.5" fill="#fafafa" stroke="#1b6b3a" stroke-width="1"/>
<rect x="660" y="786.4" width="7" height="17.1" fill="#e80c3e"/>
<rect x="668" y="793.2" width="7" height="10.3" fill="#e80c3e"/>
<rect x="676.5" y="793.5" width="6" height="9.5" fill="#fafafa" stroke="#1b6b3a" stroke-width="1"/>
<rect x="684" y="788.3" width="7" height="15.2" fill="#e80c3e"/>
<rect x="693" y="779.1" width="7" height="24.4" fill="#e80c3e"/>
<rect x="701.5" y="784.5" width="6" height="18.5" fill="#fafafa" stroke="#1b6b3a" stroke-width="1"/>
<rect x="709.5" y="785.5" width="6" height="17.5" fill="#fafafa" stroke="#1b6b3a" stroke-width="1"/>
<rect x="717.5" y="774.5" width="6" height="28.5" fill="#fafafa" stroke="#1b6b3a" stroke-width="1"/>
<rect x="725.5" y="782.5" width="6" height="20.5" fill="#fafafa" stroke="#1b6b3a" stroke-width="1"/>
<rect x="733.5" y="784.5" width="6" height="18.5" fill="#fafafa" stroke="#1b6b3a" stroke-width="1"/>
<rect x="742.5" y="776.5" width="6" height="26.5" fill="#fafafa" stroke="#1b6b3a" stroke-width="1"/>
<rect x="750" y="774.2" width="7" height="29.3" fill="#e80c3e"/>
<rect x="758.5" y="780.5" width="6" height="22.5" fill="#fafafa" stroke="#1b6b3a" stroke-width="1"/>
<rect x="766" y="781" width="7" height="22.5" fill="#e80c3e"/>
<rect x="774.5" y="784.5" width="6" height="18.5" fill="#fafafa" stroke="#1b6b3a" stroke-width="1"/>
<rect x="782.5" y="791.5" width="6" height="11.5" fill="#fafafa" stroke="#1b6b3a" stroke-width="1"/>
<rect x="791" y="786.4" width="7" height="17.1" fill="#e80c3e"/>
<rect x="799.5" y="777.5" width="6" height="25.5" fill="#fafafa" stroke="#1b6b3a" stroke-width="1"/>
<rect x="807" y="781.5" width="7" height="22" fill="#e80c3e"/>
<rect x="815" y="777.1" width="7" height="26.4" fill="#e80c3e"/>
<rect x="823.5" y="778.5" width="6" height="24.5" fill="#fafafa" stroke="#1b6b3a" stroke-width="1"/>
<rect x="831" y="777.1" width="7" height="26.4" fill="#e80c3e"/>
<rect x="840" y="787.1" width="7" height="16.4" fill="#e80c3e"/>
<rect x="848" y="790" width="7" height="13.5" fill="#e80c3e"/>
<rect x="856.5" y="774.5" width="6" height="28.5" fill="#fafafa" stroke="#1b6b3a" stroke-width="1"/>
<rect x="864" y="763.3" width="7" height="40.2" fill="#e80c3e"/>
<rect x="872.5" y="768.5" width="6" height="34.5" fill="#fafafa" stroke="#1b6b3a" stroke-width="1"/>
<rect x="880.5" y="776.5" width="6" height="26.5" fill="#fafafa" stroke="#1b6b3a" stroke-width="1"/>
<rect x="889" y="773.5" width="7" height="30" fill="#e80c3e"/>
<rect x="897" y="792.5" width="7" height="11" fill="#e80c3e"/>
<rect x="905" y="789.6" width="7" height="13.9" fill="#e80c3e"/>
<rect x="913.5" y="783.5" width="6" height="19.5" fill="#fafafa" stroke="#1b6b3a" stroke-width="1"/>
<rect x="921.5" y="781.5" width="6" height="21.5" fill="#fafafa" stroke="#1b6b3a" stroke-width="1"/>
<rect x="929" y="782.3" width="7" height="21.2" fill="#e80c3e"/>
<rect x="938" y="782.3" width="7" height="21.2" fill="#e80c3e"/>
<rect x="946" y="788.3" width="7" height="15.2" fill="#e80c3e"/>
<rect x="954" y="796.1" width="7" height="7.4" fill="#e80c3e"/>
<rect x="962.5" y="795.5" width="6" height="7.5" fill="#fafafa" stroke="#1b6b3a" stroke-width="1"/>
<rect x="970" y="789.3" width="7" height="14.2" fill="#e80c3e"/>
<rect x="978" y="787.6" width="7" height="15.9" fill="#e80c3e"/>
<rect x="987.5" y="789.5" width="6" height="13.5" fill="#fafafa" stroke="#1b6b3a" stroke-width="1"/>
<rect x="995.5" y="776.5" width="6" height="26.5" fill="#fafafa" stroke="#1b6b3a" stroke-width="1"/>
<rect x="1003" y="780.3" width="7" height="23.2" fill="#e80c3e"/>
<rect x="1011" y="795.4" width="7" height="8.1" fill="#e80c3e"/>
<rect x="1019.5" y="794.5" width="6" height="8.5" fill="#fafafa" stroke="#1b6b3a" stroke-width="1"/>
<rect x="1027.5" y="788.5" width="6" height="14.5" fill="#fafafa" stroke="#1b6b3a" stroke-width="1"/>
<rect x="1036" y="786.4" width="7" height="17.1" fill="#e80c3e"/>
<rect x="1044" y="790.5" width="7" height="13" fill="#e80c3e"/>
<rect x="1052" y="788.8" width="7" height="14.7" fill="#e80c3e"/>
<rect x="1060.5" y="785.5" width="6" height="17.5" fill="#fafafa" stroke="#1b6b3a" stroke-width="1"/>
<rect x="1068.5" y="796.5" width="6" height="6.5" fill="#fafafa" stroke="#1b6b3a" stroke-width="1"/>
<rect x="1076.5" y="792.5" width="6" height="10.5" fill="#fafafa" stroke="#1b6b3a" stroke-width="1"/>
<rect x="1085" y="786.4" width="7" height="17.1" fill="#e80c3e"/>
<rect x="1093.5" y="781.5" width="6" height="21.5" fill="#fafafa" stroke="#1b6b3a" stroke-width="1"/>
<rect x="1101.5" y="777.5" width="6" height="25.5" fill="#fafafa" stroke="#1b6b3a" stroke-width="1"/>
<rect x="1109" y="781.5" width="7" height="22" fill="#e80c3e"/>
<rect x="1117.5" y="784.5" width="6" height="18.5" fill="#fafafa" stroke="#1b6b3a" stroke-width="1"/>
<rect x="1125.5" y="786.5" width="6" height="16.5" fill="#fafafa" stroke="#1b6b3a" stroke-width="1"/>
<rect x="1134" y="790.5" width="7" height="13" fill="#e80c3e"/>
<rect x="1142" y="783.2" width="7" height="20.3" fill="#e80c3e"/>
<rect x="1150" y="784.4" width="7" height="19.1" fill="#e80c3e"/>
<rect x="1158" y="778.4" width="7" height="25.1" fill="#e80c3e"/>
<rect x="1166.5" y="782.5" width="6" height="20.5" fill="#fafafa" stroke="#1b6b3a" stroke-width="1"/>
<rect x="1174.5" y="773.5" width="6" height="29.5" fill="#fafafa" stroke="#1b6b3a" stroke-width="1"/>
<rect x="1183.5" y="787.5" width="6" height="15.5" fill="#fafafa" stroke="#1b6b3a" stroke-width="1"/>
<rect x="1191" y="788.3" width="7" height="15.2" fill="#e80c3e"/>
<rect x="1199" y="777.4" width="7" height="26.1" fill="#e80c3e"/>
<rect x="1207" y="752.3" width="7" height="51.2" fill="#e80c3e"/>
<rect x="1215" y="754.3" width="7" height="49.2" fill="#e80c3e"/>
<rect x="1223.5" y="762.5" width="6" height="40.5" fill="#fafafa" stroke="#1b6b3a" stroke-width="1"/>
<rect x="1232" y="777.9" width="7" height="25.6" fill="#e80c3e"/>
<rect x="1240" y="792.5" width="7" height="11" fill="#e80c3e"/>
<rect x="1248" y="791.3" width="7" height="12.2" fill="#e80c3e"/>
<rect x="1256.5" y="778.5" width="6" height="24.5" fill="#fafafa" stroke="#1b6b3a" stroke-width="1"/>
<rect x="1264.5" y="784.5" width="6" height="18.5" fill="#fafafa" stroke="#1b6b3a" stroke-width="1"/>
<rect x="1272" y="785.2" width="7" height="18.3" fill="#e80c3e"/>
<rect x="1281.5" y="788.5" width="6" height="14.5" fill="#fafafa" stroke="#1b6b3a" stroke-width="1"/>
<rect x="1289.5" y="789.5" width="6" height="13.5" fill="#fafafa" stroke="#1b6b3a" stroke-width="1"/>
<rect x="1297.5" y="796.5" width="6" height="6.5" fill="#fafafa" stroke="#1b6b3a" stroke-width="1"/>
<rect x="1305" y="793.2" width="7" height="10.3" fill="#e80c3e"/>
<rect x="1313" y="780.8" width="7" height="22.7" fill="#e80c3e"/>
<rect x="1321.5" y="787.5" width="6" height="15.5" fill="#fafafa" stroke="#1b6b3a" stroke-width="1"/>
<rect x="1330.5" y="785.5" width="6" height="17.5" fill="#fafafa" stroke="#1b6b3a" stroke-width="1"/>
<rect x="1338" y="789.3" width="7" height="14.2" fill="#e80c3e"/>
<rect x="1346" y="791.3" width="7" height="12.2" fill="#e80c3e"/>
<rect x="1354" y="791.3" width="7" height="12.2" fill="#e80c3e"/>
<rect x="1362" y="792.5" width="7" height="11" fill="#e80c3e"/>
<rect x="1370" y="786.4" width="7" height="17.1" fill="#e80c3e"/>
<rect x="1379.5" y="786.5" width="6" height="16.5" fill="#fafafa" stroke="#1b6b3a" stroke-width="1"/>
<rect x="1387.5" y="783.5" width="6" height="19.5" fill="#fafafa" stroke="#1b6b3a" stroke-width="1"/>
<rect x="1395" y="787.1" width="7" height="16.4" fill="#e80c3e"/>
<rect x="1403.5" y="789.5" width="6" height="13.5" fill="#fafafa" stroke="#1b6b3a" stroke-width="1"/>
<rect x="1411" y="793.2" width="7" height="10.3" fill="#e80c3e"/>
<rect x="1419.5" y="791.5" width="6" height="11.5" fill="#fafafa" stroke="#1b6b3a" stroke-width="1"/>
<rect x="1428" y="787.1" width="7" height="16.4" fill="#e80c3e"/>
<rect x="1436.5" y="788.5" width="6" height="14.5" fill="#fafafa" stroke="#1b6b3a" stroke-width="1"/>
<rect x="1444" y="788.8" width="7" height="14.7" fill="#e80c3e"/>
<rect x="1452.5" y="787.5" width="6" height="15.5" fill="#fafafa" stroke="#1b6b3a" stroke-width="1"/>
<rect x="1460" y="787.1" width="7" height="16.4" fill="#e80c3e"/>
<rect x="1468" y="794.4" width="7" height="9.1" fill="#e80c3e"/>
<rect x="1477" y="793.2" width="7" height="10.3" fill="#e80c3e"/>
<rect x="1485.5" y="788.5" width="6" height="14.5" fill="#fafafa" stroke="#1b6b3a" stroke-width="1"/>
<rect x="1493.5" y="784.5" width="6" height="18.5" fill="#fafafa" stroke="#1b6b3a" stroke-width="1"/>
<rect x="1501.5" y="785.5" width="6" height="17.5" fill="#fafafa" stroke="#1b6b3a" stroke-width="1"/>
<rect x="1509" y="788.3" width="7" height="15.2" fill="#e80c3e"/>
<rect x="1517" y="786.4" width="7" height="17.1" fill="#e80c3e"/>
<rect x="1526.5" y="793.5" width="6" height="9.5" fill="#fafafa" stroke="#1b6b3a" stroke-width="1"/>
<rect x="1534" y="795.4" width="7" height="8.1" fill="#e80c3e"/>
<rect x="1542" y="791.3" width="7" height="12.2" fill="#e80c3e"/>
<rect x="1550.5" y="786.5" width="6" height="16.5" fill="#fafafa" stroke="#1b6b3a" stroke-width="1"/>
<rect x="1558" y="792.5" width="7" height="11" fill="#e80c3e"/>
<rect x="1566" y="791.3" width="7" height="12.2" fill="#e80c3e"/>
<rect x="1575" y="792.5" width="7" height="11" fill="#e80c3e"/>
<rect x="1583.5" y="796.5" width="6" height="6.5" fill="#fafafa" stroke="#1b6b3a" stroke-width="1"/>
<rect x="1591" y="795.4" width="7" height="8.1" fill="#e80c3e"/>
<rect x="1599.5" y="795.5" width="6" height="7.5" fill="#fafafa" stroke="#1b6b3a" stroke-width="1"/>
<rect x="1607" y="791.8" width="7" height="11.7" fill="#e80c3e"/>
<rect x="1615" y="790" width="7" height="13.5" fill="#e80c3e"/>
<rect x="1624.5" y="792.5" width="6" height="10.5" fill="#fafafa" stroke="#1b6b3a" stroke-width="1"/>
<rect x="1632" y="793" width="7" height="10.5" fill="#e80c3e"/>
<rect x="1640" y="795.4" width="7" height="8.1" fill="#e80c3e"/>
<rect x="1648.5" y="796.5" width="6" height="6.5" fill="#fafafa" stroke="#1b6b3a" stroke-width="1"/>
<rect x="1656.5" y="799.5" width="6" height="3.5" fill="#fafafa" stroke="#1b6b3a" stroke-width="1"/>
</g>
<polyline points="0,798.1 24.3,796.9 48.7,794.9 73,795.6 116.9,795.4 151,797.4 170.4,798.6 194.8,797.8 219.1,795.6 243.5,794.4 267.8,793.7 287.3,792.5 311.7,790.3 340.9,791.3 365.2,790.5 389.6,791.3 413.9,791.8 430,791.3 451.9,793.2 478.7,791.8 507.9,793.2 537.1,792.5 566.4,790 600.4,790 637,789.6 673.5,789.6 697.8,789.3 722.2,786.9 746.5,784.7 770.9,782.7 795.2,783.2 819.6,781 839.1,780.8 853.7,782.3 860,781 884.3,779.6 908.7,779.1 933,779.1 950.1,780.3 957.4,782 974.4,782.3 991.5,785.2 1006.1,785.2 1015.8,787.6 1035.3,787.6 1054.8,788.3 1071.8,789.3 1084,788.3 1103.5,786.9 1127.8,786.9 1152.2,785.7 1176.5,784.4 1200.9,782 1215.5,778.6 1225.2,777.1 1239.9,777.4 1249.6,778.4 1264.2,777.1 1283.7,777.9 1290,777.9 1299.7,780.3 1325.3,780.3 1338.7,784.4 1355.7,788.3 1387.4,788.3 1399.6,788.3 1414.2,789.3 1426.4,788.3 1460.4,788.3 1475.1,789.6 1492.1,788.3 1533.5,789.6 1570,789.6 1582.2,790.5 1596.8,790.5 1606.5,791.8 1621.2,791.3 1630.9,792.5 1643.1,793.2 1660.1,793.7" fill="none" stroke="#111" stroke-width="1.15" stroke-linejoin="round"/>
<defs><clipPath id="rlo"><rect x="0" y="840.8" width="1732" height="15"/></clipPath><clipPath id="rhi"><rect x="0" y="808" width="1732" height="32.8"/></clipPath></defs>
<polyline clip-path="url(#rhi)" points="0,842.4 9.7,844.3 18.3,842.4 26.8,844.3 35.3,844.3 43.8,845.6 52.4,841.7 68.2,841.4 76.7,842.4 84,839.2 90.1,838.3 107.1,838.3 124.2,840.5 141.2,840.5 151,841.4 166.8,841.4 174.1,837.5 181.4,838.3 189.9,836.3 199.7,833.4 215.5,833.4 231.3,837 238.6,838.3 248.4,835.6 263,833.4 271.5,832.2 280,833.4 288.5,828.5 295.8,826.6 304.4,827.8 312.9,827.8 327.5,830.7 337.2,829.5 345.8,833.4 353.1,833.4 362.8,828.5 370.1,826.6 379.9,827.8 387.2,827.8 411.5,830.7 418.8,830.7 426.1,831.4 430,830.2 437.3,829.3 444.6,830.2 451.9,829.5 459.2,827.3 467.7,830.7 476.3,827.3 484.1,828.5 492.1,826.6 500.6,826.6 509.1,827.8 525,829.7 532.3,831.4 540.8,832.7 549.3,839.5 557.8,838.3 565.6,836.3 573.7,837.5 582.2,836.3 589.5,837.5 598,836.3 606.5,839.2 615.1,840.7 623.6,841.7 630.9,837.5 638.7,839.5 646.7,837.5 655.2,837.5 663.8,838.3 672.3,838.3 680.8,837.5 688.1,838.3 696.6,841.7 705.2,838.3 712.5,838.3 721,829.5 729.5,829.5 737.3,828.3 745.8,826.6 753.9,834.4 762.4,834.6 770.9,835.6 778.2,835.6 786,833.4 794.5,835.1 802.6,835.6 810.6,837.5 818.9,838.3 826.9,834.4 835.4,834.4 843.2,836.3 851.7,836.3 859.8,834.4 860,834.6 867.3,835.6 875.8,833.4 883.6,832.2 891.7,833.1 900.2,834.4 908.7,835.6 916.5,832.2 924.5,829.3 933,830.2 940.8,831.4 949.4,833.4 965.9,833.4 981.7,835.6 990.3,834.6 998.8,833.4 1007.3,834.6 1015.8,834.6 1023.1,833.4 1031.2,831.4 1039.5,833.4 1047.5,834.6 1056,834.6 1064.5,833.4 1072.3,833.4 1080.4,830.2 1088.2,832.2 1096.7,827.8 1104.7,824.4 1113.2,828.5 1121,826.6 1129.1,825.4 1137.6,827.3 1145.4,828.5 1153.4,828.5 1161.9,830.5 1169.7,830.5 1177.8,825.4 1186.3,824.4 1194.8,827.1 1202.8,829.5 1210.6,837.5 1218.7,843.1 1227,837.5 1235,838.5 1243.5,838.5 1251.5,839.5 1259.3,838.5 1267.9,837.5 1275.9,838.5 1290,838.5 1299.7,838.5 1316.8,840.7 1332.6,836.6 1357,836.6 1365.5,837.5 1374,837.5 1382.5,836.3 1390.6,832.2 1398.4,833.4 1406.9,832.2 1415.4,833.4 1423.4,832.2 1431.2,833.4 1439.8,832.2 1448.3,833.4 1456.1,831.2 1464.1,832.2 1481.1,832.2 1489.7,831.2 1497.5,827.5 1505.5,827.5 1521.3,835.6 1529.8,834.4 1538.4,834.4 1545.7,836.6 1554.2,833.4 1594.4,833.4 1602.9,832.2 1611.4,834.4 1619.2,835.6 1627.7,834.4 1635.8,834.4 1643.8,835.6 1652.1,834.4 1660.1,833.4" fill="none" stroke="#3fa9d6" stroke-width="1"/>
<polyline clip-path="url(#rlo)" points="0,842.4 9.7,844.3 18.3,842.4 26.8,844.3 35.3,844.3 43.8,845.6 52.4,841.7 68.2,841.4 76.7,842.4 84,839.2 90.1,838.3 107.1,838.3 124.2,840.5 141.2,840.5 151,841.4 166.8,841.4 174.1,837.5 181.4,838.3 189.9,836.3 199.7,833.4 215.5,833.4 231.3,837 238.6,838.3 248.4,835.6 263,833.4 271.5,832.2 280,833.4 288.5,828.5 295.8,826.6 304.4,827.8 312.9,827.8 327.5,830.7 337.2,829.5 345.8,833.4 353.1,833.4 362.8,828.5 370.1,826.6 379.9,827.8 387.2,827.8 411.5,830.7 418.8,830.7 426.1,831.4 430,830.2 437.3,829.3 444.6,830.2 451.9,829.5 459.2,827.3 467.7,830.7 476.3,827.3 484.1,828.5 492.1,826.6 500.6,826.6 509.1,827.8 525,829.7 532.3,831.4 540.8,832.7 549.3,839.5 557.8,838.3 565.6,836.3 573.7,837.5 582.2,836.3 589.5,837.5 598,836.3 606.5,839.2 615.1,840.7 623.6,841.7 630.9,837.5 638.7,839.5 646.7,837.5 655.2,837.5 663.8,838.3 672.3,838.3 680.8,837.5 688.1,838.3 696.6,841.7 705.2,838.3 712.5,838.3 721,829.5 729.5,829.5 737.3,828.3 745.8,826.6 753.9,834.4 762.4,834.6 770.9,835.6 778.2,835.6 786,833.4 794.5,835.1 802.6,835.6 810.6,837.5 818.9,838.3 826.9,834.4 835.4,834.4 843.2,836.3 851.7,836.3 859.8,834.4 860,834.6 867.3,835.6 875.8,833.4 883.6,832.2 891.7,833.1 900.2,834.4 908.7,835.6 916.5,832.2 924.5,829.3 933,830.2 940.8,831.4 949.4,833.4 965.9,833.4 981.7,835.6 990.3,834.6 998.8,833.4 1007.3,834.6 1015.8,834.6 1023.1,833.4 1031.2,831.4 1039.5,833.4 1047.5,834.6 1056,834.6 1064.5,833.4 1072.3,833.4 1080.4,830.2 1088.2,832.2 1096.7,827.8 1104.7,824.4 1113.2,828.5 1121,826.6 1129.1,825.4 1137.6,827.3 1145.4,828.5 1153.4,828.5 1161.9,830.5 1169.7,830.5 1177.8,825.4 1186.3,824.4 1194.8,827.1 1202.8,829.5 1210.6,837.5 1218.7,843.1 1227,837.5 1235,838.5 1243.5,838.5 1251.5,839.5 1259.3,838.5 1267.9,837.5 1275.9,838.5 1290,838.5 1299.7,838.5 1316.8,840.7 1332.6,836.6 1357,836.6 1365.5,837.5 1374,837.5 1382.5,836.3 1390.6,832.2 1398.4,833.4 1406.9,832.2 1415.4,833.4 1423.4,832.2 1431.2,833.4 1439.8,832.2 1448.3,833.4 1456.1,831.2 1464.1,832.2 1481.1,832.2 1489.7,831.2 1497.5,827.5 1505.5,827.5 1521.3,835.6 1529.8,834.4 1538.4,834.4 1545.7,836.6 1554.2,833.4 1594.4,833.4 1602.9,832.2 1611.4,834.4 1619.2,835.6 1627.7,834.4 1635.8,834.4 1643.8,835.6 1652.1,834.4 1660.1,833.4" fill="none" stroke="#222" stroke-width="1"/>
<line x1="1732.5" y1="62" x2="1732.5" y2="855" stroke="#cfcfcf" stroke-width="1" shape-rendering="crispEdges"/>
<line x1="1733" y1="743.5" x2="1739" y2="743.5" stroke="#222" stroke-width="1" shape-rendering="crispEdges"/>
<text x="1748" y="746.7" class="ax" fill="#555">15000</text>
<line x1="1733" y1="664.5" x2="1739" y2="664.5" stroke="#222" stroke-width="1" shape-rendering="crispEdges"/>
<text x="1748" y="668" class="ax" fill="#555">16000</text>
<line x1="1733" y1="590.5" x2="1739" y2="590.5" stroke="#222" stroke-width="1" shape-rendering="crispEdges"/>
<text x="1748" y="594.1" class="ax" fill="#555">17000</text>
<line x1="1733" y1="521.5" x2="1739" y2="521.5" stroke="#222" stroke-width="1" shape-rendering="crispEdges"/>
<text x="1748" y="524.4" class="ax" fill="#555">18000</text>
<line x1="1733" y1="455.5" x2="1739" y2="455.5" stroke="#222" stroke-width="1" shape-rendering="crispEdges"/>
<text x="1748" y="458.5" class="ax" fill="#555">19000</text>
<line x1="1733" y1="392.5" x2="1739" y2="392.5" stroke="#222" stroke-width="1" shape-rendering="crispEdges"/>
<text x="1748" y="396" class="ax" fill="#555">20000</text>
<line x1="1733" y1="333.5" x2="1739" y2="333.5" stroke="#222" stroke-width="1" shape-rendering="crispEdges"/>
<text x="1748" y="336.5" class="ax" fill="#555">21000</text>
<line x1="1733" y1="276.5" x2="1739" y2="276.5" stroke="#222" stroke-width="1" shape-rendering="crispEdges"/>
<text x="1748" y="279.8" class="ax" fill="#555">22000</text>
<line x1="1733" y1="222.5" x2="1739" y2="222.5" stroke="#222" stroke-width="1" shape-rendering="crispEdges"/>
<text x="1748" y="225.6" class="ax" fill="#555">23000</text>
<line x1="1733" y1="170.5" x2="1739" y2="170.5" stroke="#222" stroke-width="1" shape-rendering="crispEdges"/>
<text x="1748" y="173.8" class="ax" fill="#555">24000</text>
<line x1="1733" y1="120.5" x2="1739" y2="120.5" stroke="#222" stroke-width="1" shape-rendering="crispEdges"/>
<text x="1748" y="124" class="ax" fill="#555">25000</text>
<line x1="1733" y1="72.5" x2="1739" y2="72.5" stroke="#222" stroke-width="1" shape-rendering="crispEdges"/>
<text x="1748" y="76.2" class="ax" fill="#555">26000</text>
<text x="1748" y="550.3" class="ax" fill="#444">17622.00</text>
<rect x="1733" y="600.5" width="10" height="18.5" fill="#1b6b3a" fill-opacity="0.7"/>
<rect x="1743" y="600.5" width="61" height="18.5" fill="#1b6b3a"/>
<text x="1748" y="614" class="ax" fill="#fff" font-weight="bold">16731.15</text>
<line x1="1733" y1="769.5" x2="1739" y2="769.5" stroke="#222" stroke-width="1" shape-rendering="crispEdges"/>
<line x1="1733" y1="793.5" x2="1739" y2="793.5" stroke="#222" stroke-width="1" shape-rendering="crispEdges"/>
<line x1="1733" y1="799.5" x2="1739" y2="799.5" stroke="#1b6b3a" stroke-width="1" shape-rendering="crispEdges"/>
<line x1="1733" y1="801.5" x2="1739" y2="801.5" stroke="#1b6b3a" stroke-width="1" shape-rendering="crispEdges"/>
<line x1="1733" y1="803.5" x2="1739" y2="803.5" stroke="#222" stroke-width="1" shape-rendering="crispEdges"/>
<text x="1748" y="773.8" class="ax" fill="#555">500.0K</text>
<text x="1748" y="804.2" class="ax" fill="#555">59.01K</text>
<line x1="1733" y1="809.5" x2="1739" y2="809.5" stroke="#222" stroke-width="1" shape-rendering="crispEdges"/>
<line x1="1733" y1="822.5" x2="1739" y2="822.5" stroke="#222" stroke-width="1" shape-rendering="crispEdges"/>
<line x1="1733" y1="833.5" x2="1739" y2="833.5" stroke="#3fa9d6" stroke-width="1" shape-rendering="crispEdges"/>
<line x1="1733" y1="841.5" x2="1739" y2="841.5" stroke="#222" stroke-width="1" shape-rendering="crispEdges"/>
<line x1="1733" y1="854.5" x2="1739" y2="854.5" stroke="#222" stroke-width="1" shape-rendering="crispEdges"/>
<text x="1748" y="837.8" class="ax" fill="#555">47.23</text>
<text x="1748" y="858" class="ax" fill="#555">0.00</text>
<rect x="0" y="856" width="1807" height="26" fill="#f8f8f8"/>
<line x1="0" y1="856.5" x2="1807" y2="856.5" stroke="#cfcfcf" stroke-width="1" shape-rendering="crispEdges"/>
<line x1="1732.5" y1="855" x2="1732.5" y2="882" stroke="#cfcfcf" stroke-width="1" shape-rendering="crispEdges"/>
<line x1="26.5" y1="857" x2="26.5" y2="862" stroke="#999" stroke-width="1" shape-rendering="crispEdges"/>
<text x="26.5" y="877" text-anchor="middle" class="ax" fill="#555">16</text>
<line x1="149.5" y1="857" x2="149.5" y2="862" stroke="#999" stroke-width="1" shape-rendering="crispEdges"/>
<text x="149.5" y="877" text-anchor="middle" class="ax" fill="#555">Jul</text>
<line x1="271.5" y1="857" x2="271.5" y2="862" stroke="#999" stroke-width="1" shape-rendering="crispEdges"/>
<text x="271.5" y="877" text-anchor="middle" class="ax" fill="#555">16</text>
<line x1="402.5" y1="857" x2="402.5" y2="862" stroke="#999" stroke-width="1" shape-rendering="crispEdges"/>
<text x="402.5" y="877" text-anchor="middle" class="ax" fill="#555">Aug</text>
<line x1="524.5" y1="857" x2="524.5" y2="862" stroke="#999" stroke-width="1" shape-rendering="crispEdges"/>
<text x="524.5" y="877" text-anchor="middle" class="ax" fill="#555">16</text>
<line x1="655.5" y1="857" x2="655.5" y2="862" stroke="#999" stroke-width="1" shape-rendering="crispEdges"/>
<text x="655.5" y="877" text-anchor="middle" class="ax" fill="#555">Sep</text>
<line x1="777.5" y1="857" x2="777.5" y2="862" stroke="#999" stroke-width="1" shape-rendering="crispEdges"/>
<text x="777.5" y="877" text-anchor="middle" class="ax" fill="#555">16</text>
<line x1="900.5" y1="857" x2="900.5" y2="862" stroke="#999" stroke-width="1" shape-rendering="crispEdges"/>
<text x="900.5" y="877" text-anchor="middle" class="ax" fill="#555">Oct</text>
<line x1="1022.5" y1="857" x2="1022.5" y2="862" stroke="#999" stroke-width="1" shape-rendering="crispEdges"/>
<text x="1022.5" y="877" text-anchor="middle" class="ax" fill="#555">16</text>
<line x1="1153.5" y1="857" x2="1153.5" y2="862" stroke="#999" stroke-width="1" shape-rendering="crispEdges"/>
<text x="1153.5" y="877" text-anchor="middle" class="ax" fill="#555">Nov</text>
<line x1="1275.5" y1="857" x2="1275.5" y2="862" stroke="#999" stroke-width="1" shape-rendering="crispEdges"/>
<text x="1275.5" y="877" text-anchor="middle" class="ax" fill="#555">16</text>
<line x1="1398.5" y1="857" x2="1398.5" y2="862" stroke="#999" stroke-width="1" shape-rendering="crispEdges"/>
<text x="1398.5" y="877" text-anchor="middle" class="ax" fill="#555">Dec</text>
<line x1="1520.5" y1="857" x2="1520.5" y2="862" stroke="#999" stroke-width="1" shape-rendering="crispEdges"/>
<text x="1520.5" y="877" text-anchor="middle" class="ax" fill="#555">16</text>
<line x1="1659.5" y1="857" x2="1659.5" y2="862" stroke="#999" stroke-width="1" shape-rendering="crispEdges"/>
<text x="1659.5" y="877" text-anchor="middle" class="ax" fill="#555">13:53:25</text>
<text x="9" y="84" class="mono" fill="#444" xml:space="preserve">Feb 10, 2022, 05:30  </text>
<text x="151.8" y="84" class="mono" fill="#444">O</text><text x="160.8" y="84" class="mono" fill="#444" textLength="50.8" lengthAdjust="spacingAndGlyphs">44372.71</text>
<text x="225.2" y="84" class="mono" fill="#444">H</text><text x="233.9" y="84" class="mono" fill="#444" textLength="50.8" lengthAdjust="spacingAndGlyphs">45821.00</text>
<text x="299.7" y="84" class="mono" fill="#444">L</text><text x="307.6" y="84" class="mono" fill="#444" textLength="50.8" lengthAdjust="spacingAndGlyphs">43174.01</text>
<text x="372.8" y="84" class="mono" fill="#444">C</text><text x="381.1" y="84" class="mono" fill="#444" textLength="50.8" lengthAdjust="spacingAndGlyphs">43495.44</text>
<text x="444.5" y="84" class="mono" fill="#444">-1.977%</text>
<rect x="7.5" y="93.5" width="11" height="11" fill="none" stroke="#444" stroke-width="1"/>
<polyline points="10.5,100.5 13,98 15.5,100.5" fill="none" stroke="#444" stroke-width="1"/>
<text x="29" y="102.5" class="mono" fill="#555">EMA 2 (200)</text><text x="105.5" y="102.5" class="mono" fill="#8e35a5">46787.43</text>
<text x="29" y="116.5" class="mono" fill="#555">EMA 3 (50)</text><text x="99" y="116.5" class="mono" fill="#a0522d">42836.27</text>
<text x="7" y="769.5" class="mono" fill="#555">Volume (base,15)</text><text x="120" y="769.5" class="mono" fill="#e8325a">62.36K</text><text x="169" y="769.5" class="mono" fill="#444">40.96K BTC</text>
<rect x="5" y="816" width="99" height="14" fill="#f8f8f8"/>
<text x="7" y="826.5" class="mono" fill="#555">RSI (14)</text><text x="69" y="826.5" class="mono" fill="#3fa9d6">59.94</text>
</svg>
<div id="tabs"><div id="tab"><svg width="12" height="14" style="position:absolute;left:5px;top:6px" viewBox="0 0 12 14"><g fill="none" stroke="#555" stroke-width="1"><rect x="1.5" y="3.5" width="2" height="7" rx="1"/><line x1="2.5" y1="1" x2="2.5" y2="3.5"/><line x1="2.5" y1="10.5" x2="2.5" y2="13"/><rect x="6.5" y="5.5" width="2" height="5" rx="1"/><line x1="7.5" y1="3" x2="7.5" y2="5.5"/><line x1="7.5" y1="10.5" x2="7.5" y2="12"/></g></svg><span>Chart</span></div></div>
<div id="bar">
<div class="btn" style="left:1px;width:170px"><svg width="14" height="14" viewBox="0 0 14 14" style="position:absolute;left:9px;top:4px"><polygon points="7,0.8 8.9,4.9 13.3,5.4 10,8.4 10.9,12.8 7,10.6 3.1,12.8 4,8.4 0.7,5.4 5.1,4.9" fill="#f7931a" stroke="#f7931a" stroke-width="0.8" stroke-linejoin="round"/></svg><span style="position:absolute;left:30.5px;top:0;font-weight:bold;color:#222;font-size:11.75px">Binance BTC/USDT</span><svg width="8" height="6" viewBox="0 0 8 6" style="position:absolute;left:150px;top:9px"><polyline points="1.5,1.5 4,4 6.5,1.5" fill="none" stroke="#222" stroke-width="1.3"/></svg></div>
<div class="btn" style="left:175px;width:50px"><span style="position:absolute;left:9px;top:0;font-size:10.5px">1D</span><svg width="8" height="6" viewBox="0 0 8 6" style="position:absolute;left:35px;top:9px"><polyline points="2,1.5 4,3.5 6,1.5" fill="none" stroke="#444" stroke-width="1"/></svg></div>
<span style="position:absolute;left:237px;top:9px;font-size:11.5px;color:#444">binance.com</span>
<svg width="13" height="13" viewBox="0 0 13 13" style="position:absolute;left:306px;top:9px"><g fill="none" stroke="#333" stroke-width="1.1"><path d="M6 1.5H2.5a1 1 0 0 0-1 1v8a1 1 0 0 0 1 1h8a1 1 0 0 0 1-1V7"/><path d="M8 1.5h3.5V5M11.5 1.5L6 7"/></g></svg>
<div class="btn" style="left:330px;width:55px"><span style="position:absolute;left:7px;top:1px">X&nbsp;Snow.</span></div>
<div class="btn" style="left:1548px;width:70px"><span style="position:absolute;left:9px;top:0">Analysis</span><svg width="8" height="6" viewBox="0 0 8 6" style="position:absolute;left:55px;top:9px"><polyline points="2,1.5 4,3.5 6,1.5" fill="none" stroke="#444" stroke-width="1"/></svg></div>
<div class="btn" style="left:1623px;width:24px"><svg width="12" height="14" style="position:absolute;left:6px;top:4px" viewBox="0 0 12 14"><g fill="#999" stroke="#333" stroke-width="1.1"><rect x="1" y="3.5" width="3" height="7" rx="1.2"/><line x1="2.5" y1="1" x2="2.5" y2="3.5"/><line x1="2.5" y1="10.5" x2="2.5" y2="13"/><rect x="7" y="3.5" width="3" height="7" rx="1.2"/><line x1="8.5" y1="1" x2="8.5" y2="3.5"/><line x1="8.5" y1="10.5" x2="8.5" y2="13"/></g></svg></div>
<div class="btn" style="left:1651px;width:24px"><svg width="14" height="14" viewBox="0 0 14 14" style="position:absolute;left:5px;top:4px"><g fill="none" stroke="#333" stroke-width="1.1"><path d="M2 12l1-3.5L9.5 2a1.2 1.2 0 0 1 1.7 0l.8.8a1.2 1.2 0 0 1 0 1.7L5.5 11z"/><path d="M8.5 3l2.5 2.5"/></g></svg></div>
<div class="btn" style="left:1679px;width:68px"><span style="position:absolute;left:11px;top:0">Share</span><svg width="13" height="13" viewBox="0 0 13 13" style="position:absolute;left:45px;top:4px"><g fill="none" stroke="#333" stroke-width="1.1"><path d="M6 1.5H2.5a1 1 0 0 0-1 1v8a1 1 0 0 0 1 1h8a1 1 0 0 0 1-1V7"/><path d="M8 1.5h3.5V5M11.5 1.5L6 7"/></g></svg></div>
<div class="btn" style="left:1751px;width:24px;border-color:#7a9be0"><svg width="18" height="18" viewBox="0 0 18 18" style="position:absolute;left:2px;top:2px"><g fill="none" stroke="#222" stroke-width="1.3"><path d="M2.5 2.5l5 5M7.6 3.6v4H3.6"/><path d="M16 16l-5-5M10.9 14.9v-4h4"/><path d="M10.5 2.5h4.5a1 1 0 0 1 1 1v5"/><path d="M8 16H3.5a1 1 0 0 1-1-1v-4.5"/></g></svg></div>
<div class="btn" style="left:1779px;width:40px;background:#98afdd;border-color:#7e9ad6;border-radius:3px 0 0 3px"><span style="position:absolute;left:6px;top:0;color:#223">man</span></div>
</div>
</body></html>
